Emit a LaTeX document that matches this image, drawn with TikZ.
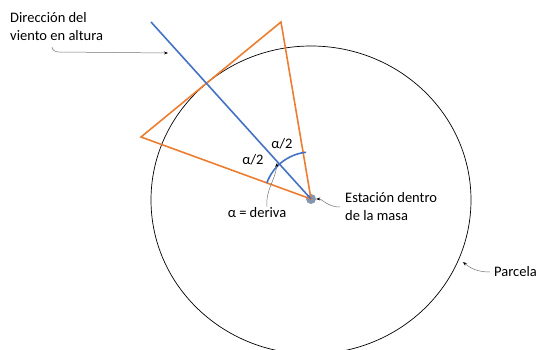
\documentclass[tikz,border=0pt]{standalone}
\usepackage{fontspec}
\setmainfont{Carlito}
\usetikzlibrary{positioning, arrows.meta}

\definecolor{orangeside}{HTML}{ED7D31}
\definecolor{bluewind}{HTML}{4472C4}
\definecolor{stationdot}{HTML}{8497B0}

\begin{document}
\begin{tikzpicture}[
    x=1pt, y=1pt,
    lbl/.style={align=left, inner sep=0pt, font=\fontsize{14.5}{18}\selectfont},
    side/.style={draw=orangeside, line width=1.6pt, line join=miter},
    wind/.style={draw=bluewind, line width=1.6pt},
    note/.style={draw=black!55, line width=0.5pt, -{Stealth[black, length=4pt, width=3pt]}}
  ]
    \useasboundingbox (0,0) rectangle (538,349);
    \clip (0,0) rectangle (538,349);
    % plot of land
    \draw[line width=0.7pt] (311,149) ellipse (160 and 154);
    \coordinate (apex) at (281,327);
    \coordinate (leftv) at (141,212);
    \coordinate (windtop) at (151,327);
    \node[circle, fill=stationdot, inner sep=0pt, minimum size=10pt] (station) at (311,150) {};
    \draw[side] (station.center) -- (apex) -- (leftv) -- cycle;
    \draw[wind] (windtop) -- (station.center);
    \draw[wind] (station.center) ++(160:47) arc[start angle=160, end angle=96, radius=47];
    \coordinate (cross) at (277,186);
    % labels
    \node[lbl, anchor=west] (dir) at (10,322) {Dirección del\\viento en altura};
    \node[lbl] (halfa) at (253,189) {α/2};
    \node[lbl] (halfb) at (282,205) {α/2};
    \node[lbl] (deriva) at (257,136) {α = deriva};
    \node[lbl, anchor=west] (est) at (345,142) {Estación dentro\\de la masa};
    \node[lbl, anchor=east] (parcela) at (537,77) {Parcela};
    \coordinate (dirfoot) at (52,302);
    \coordinate (windmark) at (168,296);
    \coordinate (plotmark) at (463,87);
    % pointers
    \draw[note] (dirfoot) to[out=-90, in=180] ++(7,-5) -- (windmark);
    \draw[note] ([xshift=10pt,yshift=1pt]deriva.north) to[out=95, in=-95] (cross);
    \draw[note] ([xshift=-5pt]est.west) to[out=180, in=-20] ++(-10,2) to[out=160, in=0] (station.east);
    \draw[note] ([xshift=-4pt]parcela.west) to[out=180, in=-40] (plotmark);
  \end{tikzpicture}
\end{document}
